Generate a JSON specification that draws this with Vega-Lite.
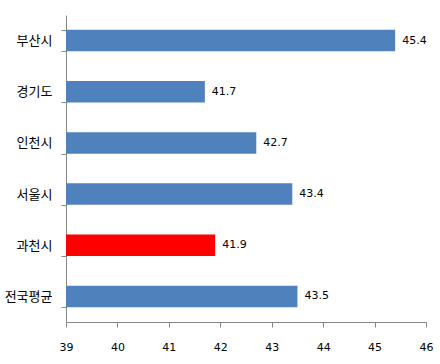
{
  "$schema": "https://vega.github.io/schema/vega-lite/v6.json",
  "autosize": {"type": "none"},
  "width": 360,
  "height": 307,
  "padding": {"left": 66, "top": 15, "right": 14, "bottom": 42},
  "background": "white",
  "config": {"view": {"stroke": null}},
  "data": {
    "values": [
      {"region": "부산시", "value": 45.4, "group": "other"},
      {"region": "경기도", "value": 41.7, "group": "other"},
      {"region": "인천시", "value": 42.7, "group": "other"},
      {"region": "서울시", "value": 43.4, "group": "other"},
      {"region": "과천시", "value": 41.9, "group": "highlight"},
      {"region": "전국평균", "value": 43.5, "group": "other"}
    ]
  },
  "encoding": {
    "y": {
      "field": "region",
      "type": "nominal",
      "sort": null,
      "scale": {"paddingInner": 0.58, "paddingOuter": 0.29},
      "axis": {
        "title": null,
        "tickBand": "extent",
        "domainColor": "#868686",
        "tickColor": "#868686",
        "tickSize": 5,
        "labelPadding": 9,
        "labelFont": "Noto Sans CJK KR",
        "labelFontSize": 13,
        "labelColor": "#000000"
      }
    },
    "x": {
      "field": "value",
      "type": "quantitative",
      "scale": {"domain": [39, 46], "zero": false, "nice": false},
      "axis": {
        "title": null,
        "grid": false,
        "values": [39, 40, 41, 42, 43, 44, 45, 46],
        "domainColor": "#868686",
        "tickColor": "#868686",
        "tickSize": 5,
        "labelPadding": 14,
        "labelFont": "DejaVu Sans",
        "labelFontSize": 11,
        "labelColor": "#000000",
        "labelFlush": false
      }
    }
  },
  "layer": [
    {
      "mark": {"type": "bar"},
      "encoding": {
        "x2": {"datum": 39},
        "color": {
          "field": "group",
          "type": "nominal",
          "scale": {"domain": ["other", "highlight"], "range": ["#4F81BD", "#FF0000"]},
          "legend": null
        }
      }
    },
    {
      "mark": {"type": "text", "align": "left", "baseline": "middle", "dx": 7, "font": "DejaVu Sans", "fontSize": 11, "color": "#000000"},
      "encoding": {
        "text": {"field": "value", "type": "quantitative", "format": ".1f"}
      }
    }
  ]
}
